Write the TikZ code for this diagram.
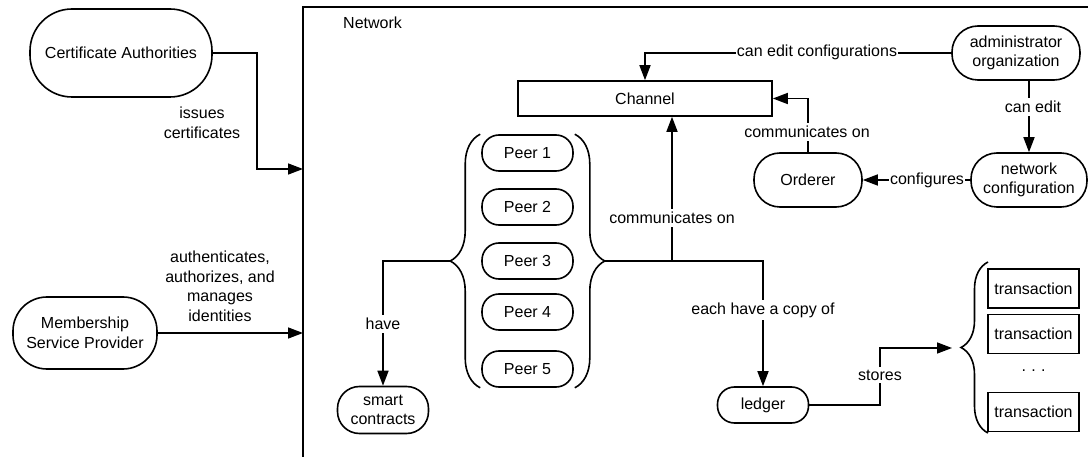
\documentclass[tikz,border=0pt]{standalone}
\usepackage{fontspec}
\setmainfont{Liberation Sans}
\usetikzlibrary{arrows.meta,decorations.pathreplacing}
\begin{document}
\begin{tikzpicture}[x=1pt,y=-1pt,
  ln/.style={line width=1.6pt},
  arr/.style={ln, -{Triangle[length=15pt,width=11pt]}},
  txt/.style={font=\fontsize{16}{19.5}\selectfont, align=center, inner sep=0pt},
  stad/.style={txt, draw, line width=1.6pt, rounded corners=#1},
  rbox/.style={txt, draw, line width=1.6pt},
  lbl/.style={txt, fill=white, inner xsep=1pt, inner ysep=3pt},
  brc/.style={ln, decorate, decoration={brace, amplitude=#1}}
]
\useasboundingbox (0,0) rectangle (1088,457);
% network frame
\draw[ln] (303,470) |- (1110,7);
\node[txt, anchor=west] (netlbl) at (343,23) {Network};

% outside nodes
\node[stad=42, minimum width=182, minimum height=88] (ca) at (121,53) {Certificate Authorities};
\node[stad=34, minimum width=144, minimum height=72] (msp) at (85,333) {Membership\\Service Provider};
\coordinate (in1) at (303,169);
\coordinate (in2) at (303,333);

% inside nodes
\node[rbox, minimum width=254, minimum height=35] (channel) at (645,98.5) {Channel};
\node[stad=26, minimum width=128, minimum height=54] (admin) at (1016,53) {administrator\\organization};
\node[stad=26, minimum width=116, minimum height=54] (netcfg) at (1029,180) {network\\configuration};
\node[stad=26, minimum width=108, minimum height=54] (orderer) at (808,180) {Orderer};
\foreach \i/\y in {1/153,2/207,3/261,4/312,5/369}
  \node[stad=17, minimum width=91, minimum height=36] (p\i) at (527.5,\y) {Peer \i};
\node[stad=22, minimum width=91, minimum height=47] (smart) at (383,410) {smart\\contracts};
\node[stad=17, minimum width=91, minimum height=36] (ledger) at (763,405) {ledger};
\node[rbox, minimum width=91, minimum height=39] (t1) at (1033.5,288.5) {transaction};
\node[rbox, minimum width=91, minimum height=39] (t2) at (1033.5,334) {transaction};
\node[txt] (dots) at (1033.5,371) {.\,\,.\,\,.};
\node[rbox, minimum width=91, minimum height=39] (t3) at (1033.5,412) {transaction};

% braces
\draw[brc=30pt] ([xshift=-1pt]p5.south west) -- ([xshift=-1pt]p1.north west);
\draw[brc=30pt] ([xshift=1pt]p1.north east) -- ([xshift=1pt]p5.south east);
\draw[brc=27pt] (988,433) -- (988,262);
\coordinate (lbt) at (451,261);
\coordinate (rbt) at (604,261);
\coordinate (junc) at (672,261);
\coordinate (txin) at (952,348);

% connectors
\draw[arr] (ca.east) -- (257,53) |- (in1);
\node[txt] (l1) at (202,123) {issues\\certificates};
\draw[arr] (msp.east) -- (in2);
\node[txt] (l2) at (220,286.5) {authenticates,\\authorizes, and\\manages\\identities};

\draw[arr] (admin.west) -| (channel.north);
\node[lbl] (l3) at (817,52) {can edit configurations};
\draw[arr] (netcfg.north |- admin.south) -- (netcfg.north);
\node[lbl] (l4) at (1033,107) {can edit};
\draw[arr] (netcfg.west) -- (orderer.east);
\node[lbl] (l5) at (927,180) {configures};
\draw[arr] (orderer.north) |- (channel.east);
\node[lbl] (l6) at (807,132) {communicates on};

\draw[ln] (rbt) -- (junc);
\draw[arr] (junc) -- (junc |- channel.south);
\node[lbl] (l7) at (672,218) {communicates on};
\draw[arr] (junc) -| (ledger.north);
\node[lbl] (l8) at (763,310) {each have a copy of};
\draw[arr] (lbt) -| (smart.north);
\node[lbl] (l9) at (383,324) {have};
\draw[arr] (ledger.east) -- (880,405) |- (txin);
\node[lbl] (l10) at (880,375) {stores};
\end{tikzpicture}
\end{document}
